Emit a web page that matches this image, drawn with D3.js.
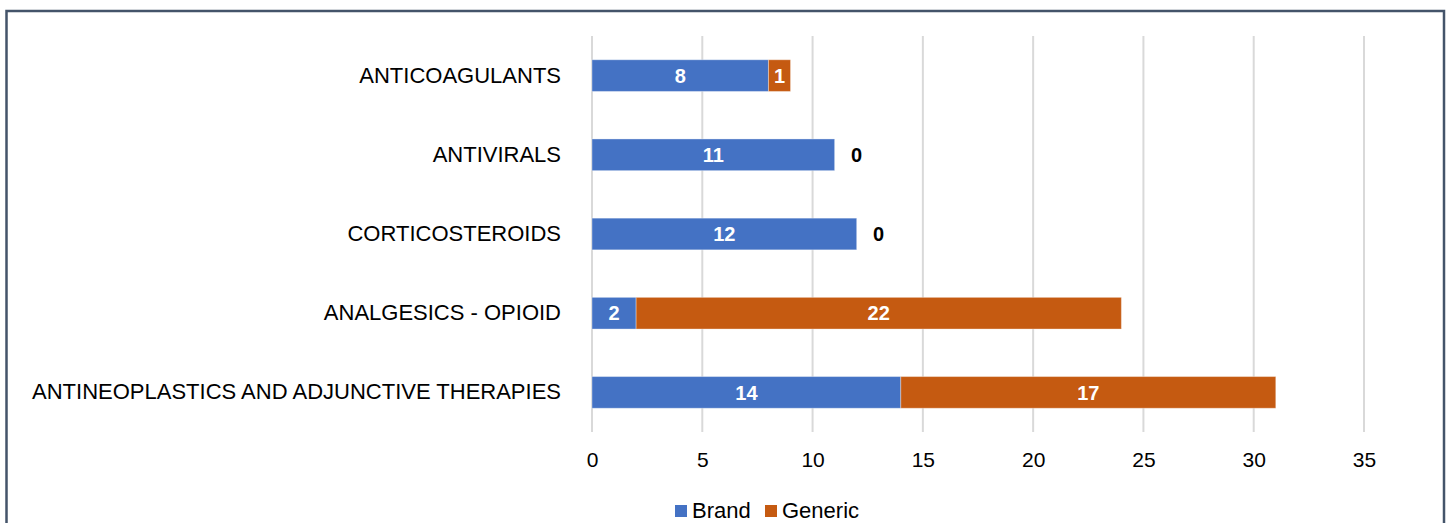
<!DOCTYPE html>
<html>
<head>
<meta charset="utf-8">
<script src="https://cdn.jsdelivr.net/npm/d3@7"></script>
<style>
  body { margin: 0; background: #fff; }
  text { font-family: "Liberation Sans", Arial, sans-serif; }
</style>
</head>
<body>
<div id="chart"></div>
<script>
var categories = ["ANTICOAGULANTS", "ANTIVIRALS", "CORTICOSTEROIDS", "ANALGESICS - OPIOID", "ANTINEOPLASTICS AND ADJUNCTIVE THERAPIES"];
var brand = [8, 11, 12, 2, 14];
var generic = [1, 0, 0, 22, 17];
var xTicks = [0, 5, 10, 15, 20, 25, 30, 35];
var seriesNames = ["Brand", "Generic"];
var colors = ["#4472C4", "#C55A11"];

var width = 1450;
var height = 523;

var svg = d3.select("#chart")
  .append("svg")
  .attr("width", width)
  .attr("height", height);

// frame
svg.append("rect")
  .attr("x", 6.5)
  .attr("y", 11)
  .attr("width", 1437.5)
  .attr("height", 540)
  .style("fill", "none")
  .style("stroke", "#44546A")
  .style("stroke-width", 2.5);

var xScale = d3.scaleLinear().domain([0, 35]).range([592, 1364]);
var yScale = d3.scaleBand().domain(categories).range([36, 432]).paddingInner(0.6).paddingOuter(0.3);

// gridlines
svg.append("g")
  .selectAll("line")
  .data(xTicks)
  .enter()
  .append("line")
  .attr("x1", function (d) { return xScale(d); })
  .attr("x2", function (d) { return xScale(d); })
  .attr("y1", 36)
  .attr("y2", 432)
  .style("stroke", "#D9D9D9")
  .style("stroke-width", 2);

// x axis
var xAxis = d3.axisBottom(xScale).tickValues(xTicks).tickSize(0).tickPadding(0);
var gx = svg.append("g")
  .attr("transform", "translate(0,452)")
  .call(xAxis);
gx.select(".domain").remove();
gx.selectAll("text")
  .attr("dy", "0.71em")
  .style("font-size", "21px")
  .style("font-family", "'Liberation Sans', Arial, sans-serif")
  .style("fill", "#000");

// y axis labels
var yAxis = d3.axisLeft(yScale).tickSize(0).tickPadding(0);
var gy = svg.append("g")
  .attr("transform", "translate(561,0)")
  .call(yAxis);
gy.select(".domain").remove();
gy.selectAll("text")
  .style("font-size", "22px")
  .style("font-family", "'Liberation Sans', Arial, sans-serif")
  .style("fill", "#000");

// stacked bars
var rows = categories.map(function (c, i) {
  return { cat: c, Brand: brand[i], Generic: generic[i] };
});
var stack = d3.stack().keys(seriesNames);
var layers = stack(rows);

var layerG = svg.selectAll(".layer")
  .data(layers)
  .enter()
  .append("g")
  .attr("class", "layer")
  .style("fill", function (d, i) { return colors[i]; });

layerG.selectAll("rect")
  .data(function (d) { return d; })
  .enter()
  .append("rect")
  .attr("x", function (d) { return xScale(d[0]); })
  .attr("y", function (d) { return yScale(d.data.cat); })
  .attr("width", function (d) { return xScale(d[1]) - xScale(d[0]); })
  .attr("height", yScale.bandwidth())
  .style("stroke", "rgba(255,255,255,0.35)")
  .style("stroke-width", 1);

// value labels
layerG.selectAll("text")
  .data(function (d) { return d; })
  .enter()
  .append("text")
  .attr("x", function (d) {
    var v = d[1] - d[0];
    if (v === 0) return xScale(d[1]) + 22;
    return (xScale(d[0]) + xScale(d[1])) / 2;
  })
  .attr("y", function (d) { return yScale(d.data.cat) + yScale.bandwidth() / 2; })
  .attr("dy", "0.36em")
  .attr("text-anchor", "middle")
  .style("font-size", "20px")
  .style("font-weight", "bold")
  .style("fill", function (d) { return (d[1] - d[0]) === 0 ? "#000" : "#fff"; })
  .text(function (d) { return d[1] - d[0]; });

// legend
var legend = svg.append("g").attr("transform", "translate(675,505)");
var legendX = [0, 90];
seriesNames.forEach(function (name, i) {
  legend.append("rect")
    .attr("x", legendX[i])
    .attr("y", 0)
    .attr("width", 12)
    .attr("height", 12)
    .style("fill", colors[i]);
  legend.append("text")
    .attr("x", legendX[i] + 17)
    .attr("y", 13)
    .style("font-size", "22px")
    .style("fill", "#000")
    .text(name);
});
</script>
</body>
</html>
